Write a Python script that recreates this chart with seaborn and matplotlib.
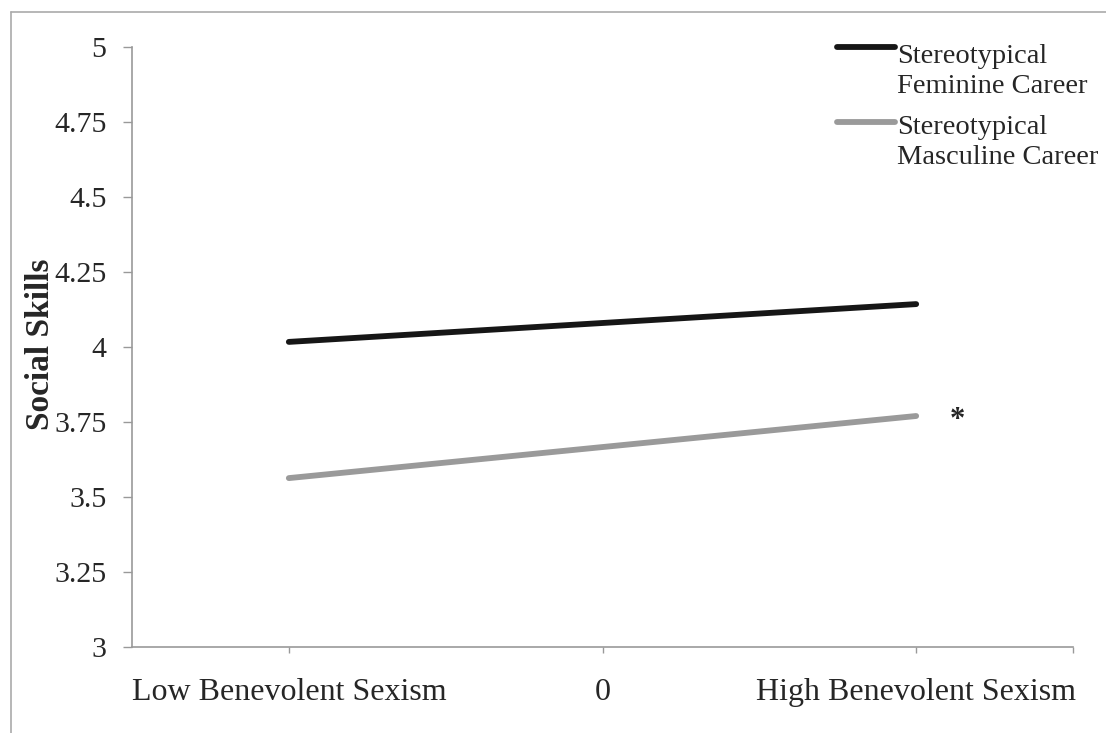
import matplotlib
matplotlib.use("Agg")
import matplotlib.pyplot as plt
import seaborn as sns
import pandas as pd
from matplotlib.lines import Line2D

categories = ["Low Benevolent Sexism", "0", "High Benevolent Sexism"]
feminine = [4.017, None, 4.143]
masculine = [3.563, None, 3.770]
series_names = ["Stereotypical\nFeminine Career", "Stereotypical\nMasculine Career"]
yticks = [3, 3.25, 3.5, 3.75, 4, 4.25, 4.5, 4.75, 5]
ytick_labels = ["3", "3.25", "3.5", "3.75", "4", "4.25", "4.5", "4.75", "5"]
colors = ["#161616", "#9a9a9a"]

sns.set_theme(style="white")
plt.rcParams['font.family'] = ['Liberation Serif', 'DejaVu Serif']

rows = []
for name, vals in zip(series_names, [feminine, masculine]):
    for i, v in enumerate(vals):
        if v is not None:
            rows.append({"x": i, "y": v, "series": name})
df = pd.DataFrame(rows)

fig = plt.figure(figsize=(11.06, 7.33), dpi=100)
ax = fig.add_axes([132/1106, 1 - 647/733, (1073-132)/1106, (647-47)/733])

sns.lineplot(data=df, x="x", y="y", hue="series",
             palette=colors, linewidth=4.2, ax=ax, legend=False)

txtc = "#262626"
ax.set_xlim(-0.5, 2.5)
ax.set_ylim(3, 5)
ax.set_yticks(yticks)
ax.set_yticklabels(ytick_labels, fontsize=21.5, color=txtc)
ax.set_xticks([0, 1, 2, 2.5])
ax.set_xticklabels(categories + [""], fontsize=23, color=txtc)
ax.tick_params(axis="y", direction="out", length=6.5, width=1, color="#999999", pad=12, left=True)
ax.tick_params(axis="x", direction="out", length=4.5, width=1, color="#999999", pad=18, bottom=True)
for s in ["top", "right"]:
    ax.spines[s].set_visible(False)
for s in ["left", "bottom"]:
    ax.spines[s].set_color("#999999")
    ax.spines[s].set_linewidth(1.2)
ax.set_xlabel("")
ax.set_ylabel("")
fig.text(41/1106, 1 - 344/733, "Social Skills", rotation=90, fontsize=24, fontweight="bold",
         color=txtc, ha="center", va="center")

ax.text(2 + 41/313, 3.755, "*", fontsize=22, fontweight="bold", ha="center", va="center", color=txtc)

# legend
handles = [Line2D([0], [0], color=c, lw=4.2) for c in colors]
leg = ax.legend(handles, series_names, loc="upper left",
                frameon=False, fontsize=20.5, handlelength=2.05, handletextpad=0.05,
                labelspacing=0.55, labelcolor=txtc, borderpad=0.0, borderaxespad=0.0)
for t in leg.get_texts():
    t.set_linespacing(1.27)
for ln, off in zip(leg.get_lines(), [17, 14]):
    yd = ln.get_ydata()
    ln.set_ydata([y + off for y in yd])
leg.set_bbox_to_anchor((837/1106, 1 - 44/733), transform=fig.transFigure)

# outer frame (top and left only visible)
fig.add_artist(Line2D([11/1106, 11/1106], [0, 1 - 12/733], transform=fig.transFigure,
                      color="#aaaaaa", lw=1.2))
fig.add_artist(Line2D([11/1106, 1], [1 - 12/733, 1 - 12/733], transform=fig.transFigure,
                      color="#aaaaaa", lw=1.2))

fig.savefig("out.png", dpi=100, facecolor="white")
